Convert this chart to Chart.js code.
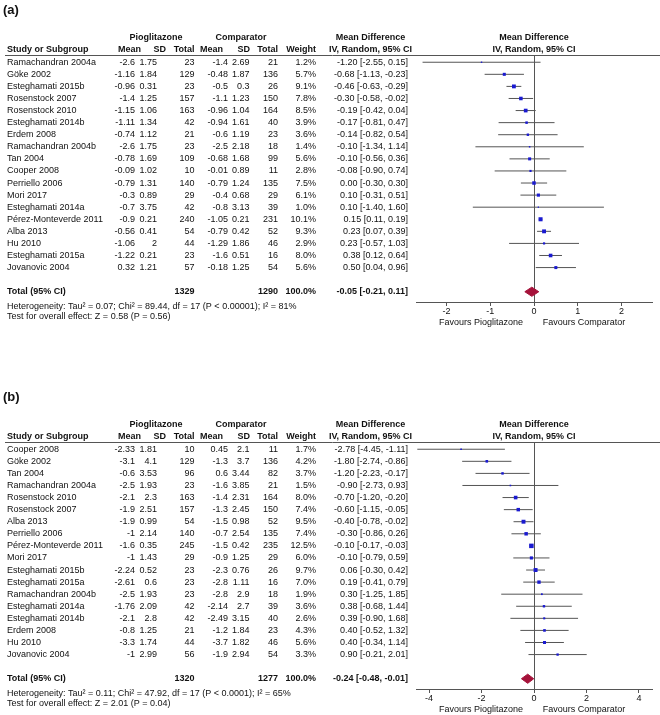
<!DOCTYPE html>
<html>
<head>
<meta charset="utf-8">
<title>Forest plots - Pioglitazone vs Comparator</title>
<script src="https://cdn.jsdelivr.net/npm/chart.js@4.4.1/dist/chart.umd.min.js"></script>
<style>
    body { margin: 0; background: #fff; }
    .panel { position: absolute; left: 0; width: 660px; height: 328px; }
    #panelA { top: 0; }
    #panelB { top: 387px; }
</style>
</head>
<body>
<div class="panel" id="panelA"><canvas id="chartA" width="660" height="328"></canvas></div>
<div class="panel" id="panelB"><canvas id="chartB" width="660" height="328"></canvas></div>
<script>
// ---- panel (a) ----
const studiesA = ['Ramachandran 2004a', 'Göke 2002', 'Esteghamati 2015b', 'Rosenstock 2007', 'Rosenstock 2010',
    'Esteghamati 2014b', 'Erdem 2008', 'Ramachandran 2004b', 'Tan 2004', 'Cooper 2008', 'Perriello 2006',
    'Mori 2017', 'Esteghamati 2014a', 'Pérez-Monteverde 2011', 'Alba 2013', 'Hu 2010', 'Esteghamati 2015a',
    'Jovanovic 2004'];
const pioMeanA = [-2.6, -1.16, -0.96, -1.4, -1.15, -1.11, -0.74, -2.6, -0.78, -0.09, -0.79, -0.3, -0.7, -0.9, -0.56, -1.06, -1.22, 0.32];
const pioSdA = [1.75, 1.84, 0.31, 1.25, 1.06, 1.34, 1.12, 1.75, 1.69, 1.02, 1.31, 0.89, 3.75, 0.21, 0.41, 2, 0.21, 1.21];
const pioNA = [23, 129, 23, 157, 163, 42, 21, 23, 109, 10, 140, 29, 42, 240, 54, 44, 23, 57];
const compMeanA = [-1.4, -0.48, -0.5, -1.1, -0.96, -0.94, -0.6, -2.5, -0.68, -0.01, -0.79, -0.4, -0.8, -1.05, -0.79, -1.29, -1.6, -0.18];
const compSdA = [2.69, 1.87, 0.3, 1.23, 1.04, 1.61, 1.19, 2.18, 1.68, 0.89, 1.24, 0.68, 3.13, 0.21, 0.42, 1.86, 0.51, 1.25];
const compNA = [21, 136, 26, 150, 164, 40, 23, 18, 99, 11, 135, 29, 39, 231, 52, 46, 16, 54];
const weightA = [1.2, 5.7, 9.1, 7.8, 8.5, 3.9, 3.6, 1.4, 5.6, 2.8, 7.5, 6.1, 1.0, 10.1, 9.3, 2.9, 8.0, 5.6];
const mdA = [-1.20, -0.68, -0.46, -0.30, -0.19, -0.17, -0.14, -0.10, -0.10, -0.08, 0.00, 0.10, 0.10, 0.15, 0.23, 0.23, 0.38, 0.50];
const loA = [-2.55, -1.13, -0.63, -0.58, -0.42, -0.81, -0.82, -1.34, -0.56, -0.90, -0.30, -0.31, -1.40, 0.11, 0.07, -0.57, 0.12, 0.04];
const hiA = [0.15, -0.23, -0.29, -0.02, 0.04, 0.47, 0.54, 1.14, 0.36, 0.74, 0.30, 0.51, 1.60, 0.19, 0.39, 1.03, 0.64, 0.96];
const totalA = [1329, 1290, 100.0, -0.05, -0.21, 0.11];   // pio N, comp N, weight, MD, lo, hi
const ticksA = [-2, -1, 0, 1, 2];
const notesA = ['Heterogeneity: Tau² = 0.07; Chi² = 89.44, df = 17 (P < 0.00001); I² = 81%',
    'Test for overall effect: Z = 0.58 (P = 0.56)'];

// ---- panel (b) ----
const studiesB = ['Cooper 2008', 'Göke 2002', 'Tan 2004', 'Ramachandran 2004a', 'Rosenstock 2010', 'Rosenstock 2007',
    'Alba 2013', 'Perriello 2006', 'Pérez-Monteverde 2011', 'Mori 2017', 'Esteghamati 2015b', 'Esteghamati 2015a',
    'Ramachandran 2004b', 'Esteghamati 2014a', 'Esteghamati 2014b', 'Erdem 2008', 'Hu 2010', 'Jovanovic 2004'];
const pioMeanB = [-2.33, -3.1, -0.6, -2.5, -2.1, -1.9, -1.9, -1, -1.6, -1, -2.24, -2.61, -2.5, -1.76, -2.1, -0.8, -3.3, -1];
const pioSdB = [1.81, 4.1, 3.53, 1.93, 2.3, 2.51, 0.99, 2.14, 0.35, 1.43, 0.52, 0.6, 1.93, 2.09, 2.8, 1.25, 1.74, 2.99];
const pioNB = [10, 129, 96, 23, 163, 157, 54, 140, 245, 29, 23, 23, 23, 42, 42, 21, 44, 56];
const compMeanB = [0.45, -1.3, 0.6, -1.6, -1.4, -1.3, -1.5, -0.7, -1.5, -0.9, -2.3, -2.8, -2.8, -2.14, -2.49, -1.2, -3.7, -1.9];
const compSdB = [2.1, 3.7, 3.44, 3.85, 2.31, 2.45, 0.98, 2.54, 0.42, 1.25, 0.76, 1.11, 2.9, 2.7, 3.15, 1.84, 1.82, 2.94];
const compNB = [11, 136, 82, 21, 164, 150, 52, 135, 235, 29, 26, 16, 18, 39, 40, 23, 46, 54];
const weightB = [1.7, 4.2, 3.7, 1.5, 8.0, 7.4, 9.5, 7.4, 12.5, 6.0, 9.7, 7.0, 1.9, 3.6, 2.6, 4.3, 5.6, 3.3];
const mdB = [-2.78, -1.80, -1.20, -0.90, -0.70, -0.60, -0.40, -0.30, -0.10, -0.10, 0.06, 0.19, 0.30, 0.38, 0.39, 0.40, 0.40, 0.90];
const loB = [-4.45, -2.74, -2.23, -2.73, -1.20, -1.15, -0.78, -0.86, -0.17, -0.79, -0.30, -0.41, -1.25, -0.68, -0.90, -0.52, -0.34, -0.21];
const hiB = [-1.11, -0.86, -0.17, 0.93, -0.20, -0.05, -0.02, 0.26, -0.03, 0.59, 0.42, 0.79, 1.85, 1.44, 1.68, 1.32, 1.14, 2.01];
const totalB = [1320, 1277, 100.0, -0.24, -0.48, -0.01];
const ticksB = [-4, -2, 0, 2, 4];
const notesB = ['Heterogeneity: Tau² = 0.11; Chi² = 47.92, df = 17 (P < 0.0001); I² = 65%',
    'Test for overall effect: Z = 2.01 (P = 0.04)'];

const FONT = '"Liberation Sans", Arial, Helvetica, sans-serif';
const LINE = '#555';

// x positions of the table columns (right edges, except name)
const COL = { name: 7, pMean: 135, pSd: 157, pN: 194.5, cMean: 228, cSd: 249.5, cN: 278, w: 316, ci: 408 };
const HEAD = { pMean: 141, pSd: 166, pN: 194.5, cMean: 223, cSd: 250, cN: 278, w: 316 };

function txt(ctx, s, x, y, align, bold, size) {
    ctx.font = (bold ? 'bold ' : '') + (size || 9) + 'px ' + FONT;
    ctx.textAlign = align;
    ctx.textBaseline = 'middle';
    ctx.fillStyle = '#111';
    ctx.fillText(s, x, y);
}

function ciText(md, lo, hi) {
    return md.toFixed(2) + ' [' + lo.toFixed(2) + ', ' + hi.toFixed(2) + ']';
}

// draws the table part and labels, using the chart's own y scale for the rows
function tablePlugin(label, studies, pioMean, pioSd, pioN, compMean, compSd, compN, weight, md, lo, hi, total, notes) {
    return {
        id: 'forestTable',
        afterDraw(chart) {
            const ctx = chart.ctx;
            const area = chart.chartArea;
            const y = chart.scales.y;
            const x = chart.scales.x;
            ctx.save();

            txt(ctx, label, 3, 10, 'left', true, 13);

            // header
            const gY = area.top - 17.5, hY = area.top - 5.5;
            txt(ctx, 'Pioglitazone', 156, gY, 'center', true);
            txt(ctx, 'Comparator', 241, gY, 'center', true);
            txt(ctx, 'Mean Difference', 370.5, gY, 'center', true);
            txt(ctx, 'Mean Difference', (area.left + area.right) / 2, gY, 'center', true);
            txt(ctx, 'Study or Subgroup', COL.name, hY, 'left', true);
            txt(ctx, 'Mean', HEAD.pMean, hY, 'right', true);
            txt(ctx, 'SD', HEAD.pSd, hY, 'right', true);
            txt(ctx, 'Total', HEAD.pN, hY, 'right', true);
            txt(ctx, 'Mean', HEAD.cMean, hY, 'right', true);
            txt(ctx, 'SD', HEAD.cSd, hY, 'right', true);
            txt(ctx, 'Total', HEAD.cN, hY, 'right', true);
            txt(ctx, 'Weight', HEAD.w, hY, 'right', true);
            txt(ctx, 'IV, Random, 95% CI', 370.5, hY, 'center', true);
            txt(ctx, 'IV, Random, 95% CI', (area.left + area.right) / 2, hY, 'center', true);

            ctx.strokeStyle = LINE;
            ctx.lineWidth = 1;
            ctx.beginPath();
            ctx.moveTo(5, Math.round(area.top) + 0.5);
            ctx.lineTo(660, Math.round(area.top) + 0.5);
            ctx.stroke();

            // study rows
            studies.forEach((s, i) => {
                const ry = y.getPixelForValue(i);
                txt(ctx, s, COL.name, ry, 'left');
                txt(ctx, String(pioMean[i]), COL.pMean, ry, 'right');
                txt(ctx, String(pioSd[i]), COL.pSd, ry, 'right');
                txt(ctx, String(pioN[i]), COL.pN, ry, 'right');
                txt(ctx, String(compMean[i]), COL.cMean, ry, 'right');
                txt(ctx, String(compSd[i]), COL.cSd, ry, 'right');
                txt(ctx, String(compN[i]), COL.cN, ry, 'right');
                txt(ctx, weight[i].toFixed(1) + '%', COL.w, ry, 'right');
                txt(ctx, ciText(md[i], lo[i], hi[i]), COL.ci, ry, 'right');
            });

            // total row
            const ty = y.getPixelForValue(studies.length + 1);
            txt(ctx, 'Total (95% CI)', COL.name, ty, 'left', true);
            txt(ctx, String(total[0]), COL.pN, ty, 'right', true);
            txt(ctx, String(total[1]), COL.cN, ty, 'right', true);
            txt(ctx, total[2].toFixed(1) + '%', COL.w, ty, 'right', true);
            txt(ctx, ciText(total[3], total[4], total[5]), COL.ci, ty, 'right', true);

            txt(ctx, notes[0], COL.name, area.bottom + 4.5, 'left');
            txt(ctx, notes[1], COL.name, area.bottom + 15, 'left');

            const zero = x.getPixelForValue(0);
            txt(ctx, 'Favours Pioglitazone', zero - 53, area.bottom + 21, 'center');
            txt(ctx, 'Favours Comparator', zero + 50, area.bottom + 21, 'center');
            ctx.restore();
        }
    };
}

function makeForest(canvasId, label, studies, pioMean, pioSd, pioN, compMean, compSd, compN, weight, md, lo, hi, total, notes, tickVals, xMin, xMax) {
    const totalRow = studies.length + 1;

    // CI whiskers: one broken line, null points split the segments
    const ciPoints = [];
    md.forEach((v, i) => {
        ciPoints.push({ x: lo[i], y: i }, { x: hi[i], y: i }, { x: null, y: null });
    });

    // diamond for the pooled estimate
    const dh = 0.38;
    const diamond = [
        { x: total[4], y: totalRow },
        { x: total[3], y: totalRow - dh },
        { x: total[5], y: totalRow },
        { x: total[3], y: totalRow + dh },
        { x: total[4], y: totalRow }
    ];

    const ctx = document.getElementById(canvasId).getContext('2d');
    return new Chart(ctx, {
        type: 'scatter',
        data: {
            datasets: [
                {
                    label: 'CI',
                    data: ciPoints,
                    showLine: true,
                    spanGaps: false,
                    borderColor: LINE,
                    borderWidth: 1,
                    pointRadius: 0,
                    order: 3
                },
                {
                    label: 'Mean difference',
                    data: md.map((v, i) => ({ x: v, y: i })),
                    pointStyle: 'rect',
                    pointRadius: weight.map(w => 0.9 * Math.sqrt(w)),
                    backgroundColor: '#1a1ad0',
                    pointBackgroundColor: '#1a1ad0',
                    pointBorderWidth: 0,
                    order: 1
                },
                {
                    label: 'Total',
                    data: diamond,
                    showLine: true,
                    fill: 'shape',
                    tension: 0,
                    borderColor: '#a5123a',
                    backgroundColor: '#a5123a',
                    borderWidth: 1,
                    pointRadius: 0,
                    order: 2
                }
            ]
        },
        options: {
            responsive: false,
            animation: false,
            events: [],
            layout: { padding: { left: 416, right: 8, top: 55, bottom: 0 } },
            plugins: {
                legend: { display: false },
                tooltip: { enabled: false }
            },
            scales: {
                x: {
                    type: 'linear',
                    min: xMin,
                    max: xMax,
                    afterBuildTicks: s => { s.ticks = tickVals.map(v => ({ value: v })); },
                    afterFit: s => { s.height = 26; },
                    grid: {
                        drawOnChartArea: true,
                        color: c => (c.tick && c.tick.value === 0 ? LINE : 'rgba(0,0,0,0)'),
                        tickColor: LINE,
                        tickLength: 4,
                        lineWidth: 1
                    },
                    border: { display: true, color: LINE, width: 1 },
                    ticks: {
                        color: '#111',
                        padding: 0,
                        maxRotation: 0,
                        font: { family: FONT, size: 9 }
                    }
                },
                y: {
                    type: 'linear',
                    display: false,
                    reverse: true,
                    min: -0.6,
                    max: totalRow + 0.85
                }
            }
        },
        plugins: [tablePlugin(label, studies, pioMean, pioSd, pioN, compMean, compSd, compN, weight, md, lo, hi, total, notes)]
    });
}

makeForest('chartA', '(a)', studiesA, pioMeanA, pioSdA, pioNA, compMeanA, compSdA, compNA, weightA,
    mdA, loA, hiA, totalA, notesA, ticksA, -2.7, 2.7);
makeForest('chartB', '(b)', studiesB, pioMeanB, pioSdB, pioNB, compMeanB, compSdB, compNB, weightB,
    mdB, loB, hiB, totalB, notesB, ticksB, -4.5, 4.5);
</script>
</body>
</html>
